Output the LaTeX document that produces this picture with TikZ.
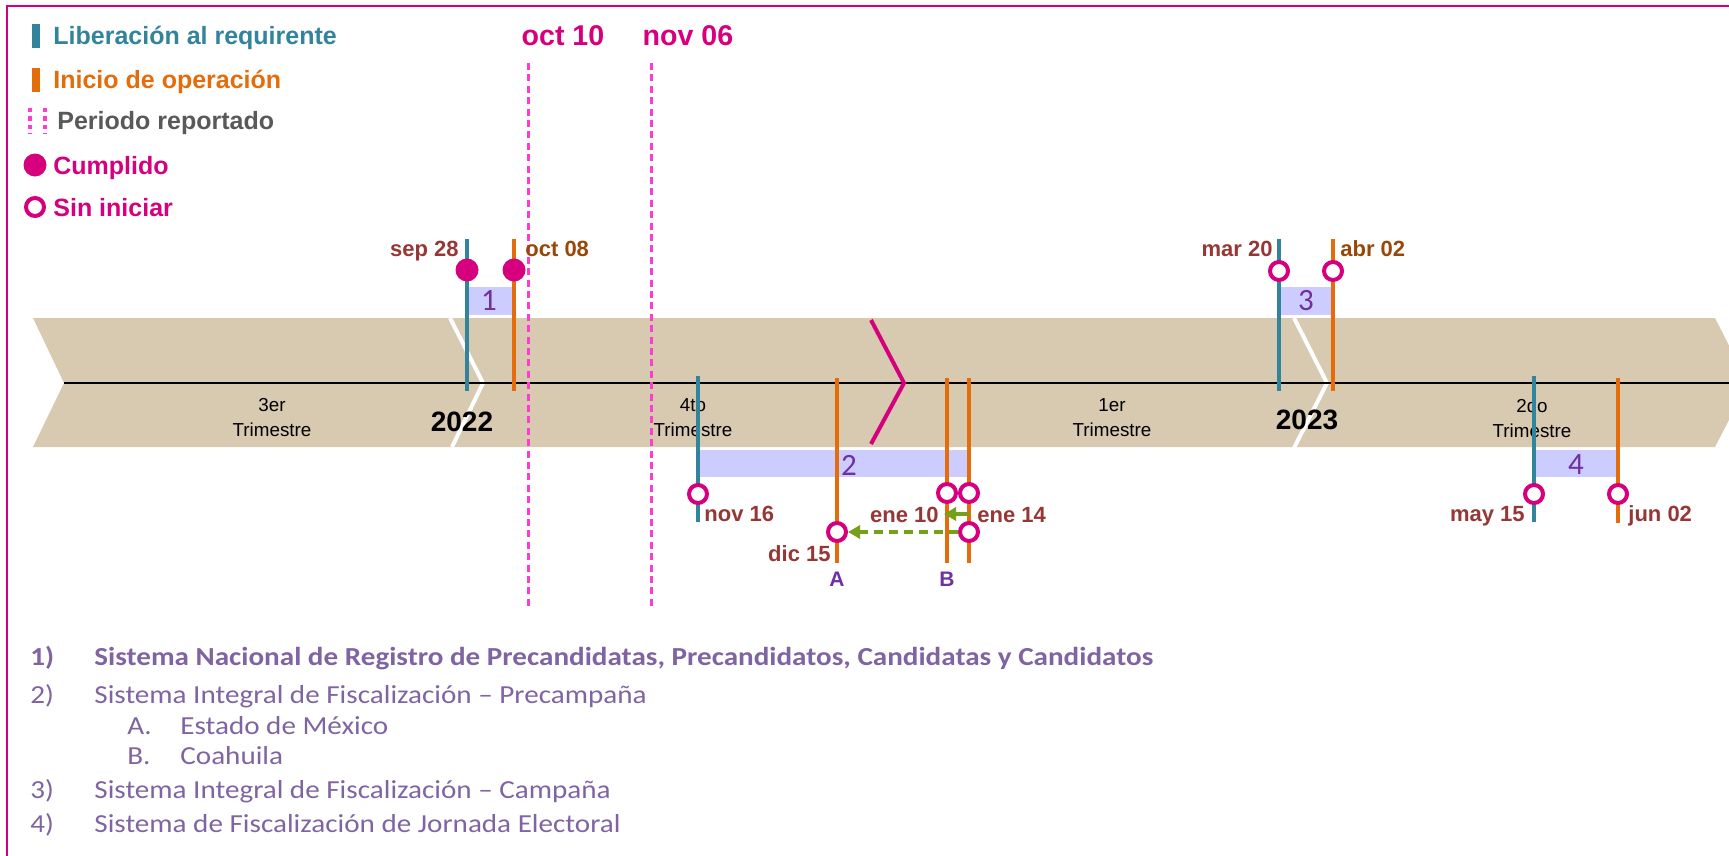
\documentclass[tikz,border=0pt]{standalone}
\usepackage{fontspec}
\setmainfont{Liberation Sans}
\newfontfamily\listfont[FakeStretch=1.12]{Carlito}
\newfontfamily\digitfont{Carlito}
\usetikzlibrary{arrows.meta}

\definecolor{tealc}{RGB}{49,132,155}
\definecolor{orangec}{RGB}{228,108,10}
\definecolor{magc}{RGB}{214,0,127}
\definecolor{pinkc}{RGB}{255,60,210}
\definecolor{tanc}{RGB}{216,201,177}
\definecolor{boxc}{RGB}{204,204,255}
\definecolor{numc}{RGB}{112,48,160}
\definecolor{datec}{RGB}{149,55,53}
\definecolor{brownc}{RGB}{152,72,6}
\definecolor{greenc}{RGB}{118,160,26}
\definecolor{listc}{RGB}{128,100,162}
\definecolor{grayc}{RGB}{89,89,89}

\begin{document}
\begin{tikzpicture}[x=0.5pt,y=-0.5pt,>={Triangle[length=6pt,width=6.5pt]}]

	\tikzset{vline/.style={line width=2.2pt}}
	\tikzset{done/.style={circle,fill=magc,inner sep=0pt,minimum size=11.5pt}}
	\tikzset{todo/.style={circle,draw=magc,fill=white,line width=2pt,inner sep=0pt,minimum size=9pt}}
	\tikzset{datelbl/.style={inner sep=0pt,text=datec,font=\bfseries\fontsize{11}{13}\selectfont}}
	\tikzset{numbox/.style={fill=boxc,inner sep=0pt}}
	\tikzset{numlbl/.style={inner sep=0pt,text=numc,font=\digitfont\fontsize{15.5}{18}\selectfont}}
	\tikzset{quarter/.style={align=center,inner sep=0pt,font=\fontsize{9.4}{12.5}\selectfont}}
	\tikzset{year/.style={inner sep=0pt,font=\bfseries\fontsize{14}{16}\selectfont}}
	\tikzset{legend/.style={anchor=base west,inner sep=0pt,font=\bfseries\fontsize{12.5}{15}\selectfont}}
	\tikzset{period/.style={draw=pinkc,line width=1.5pt,dash pattern=on 3.5pt off 2.2pt}}
	\tikzset{listitem/.style={anchor=base west,inner sep=0pt,text=listc,font=\listfont\fontsize{13}{15}\selectfont}}
	\tikzset{ab/.style={inner sep=0pt,text=numc,font=\bfseries\fontsize{10.5}{12}\selectfont}}

	\useasboundingbox (0,0) rectangle (1729,856);
	\draw[magc,line width=1.2pt] (7,6) rectangle (1760,900);

	% legend
	\draw[tealc,line width=4pt] (36,24) -- (36,48);
	\node[legend,text=tealc] (lg1) at (53,45) {Liberación al requirente};
	\draw[orangec,line width=4pt] (36,68) -- (36,92);
	\node[legend,text=orangec] (lg2) at (53,89) {Inicio de operación};
	\draw[pinkc,line width=2pt,dash pattern=on 2.2pt off 2pt] (30,108) -- (30,134);
	\draw[pinkc,line width=2pt,dash pattern=on 2.2pt off 2pt] (45,108) -- (45,134);
	\node[legend,text=grayc] (lg3) at (57,130) {Periodo reportado};
	\node[done] (lgd) at (35,165) {};
	\node[legend,text=magc] (lg4) at (53,174) {Cumplido};
	\node[todo] (lgu) at (35,207) {};
	\node[legend,text=magc] (lg5) at (53,216) {Sin iniciar};

	% timeline band
	\fill[tanc] (33,318) -- (1715,318) -- (1748,383) -- (1715,447) -- (33,447) -- (64,383) -- cycle;
	\draw[white,line width=2pt] (450,318) -- (483,383) -- (452,447);
	\draw[white,line width=2pt] (1294,318) -- (1327,383) -- (1294,448);
	\draw[line width=1.3pt] (64,383) -- (1729,383);
	\draw[magc,line width=2pt] (871,320) -- (904,383) -- (871,444);

	\foreach \x/\q in {272/3er,693/4to,1112/1er,1532/2do}{
		\node[quarter] (q\q) at (\x,418) {\q\\Trimestre};
	}
	\node[year] (y2022) at (462,422) {2022};
	\node[year] (y2023) at (1307,420) {2023};

	% periodo reportado
	\coordinate (p1a) at (528,63);
	\coordinate (p1b) at (528,606);
	\draw[period] (p1a) -- (p1b);
	\coordinate (p2a) at (651,63);
	\coordinate (p2b) at (651,606);
	\draw[period] (p2a) -- (p2b);
	\node[anchor=base,inner sep=0pt,text=magc,font=\bfseries\fontsize{14.3}{17}\selectfont] (oct) at (563,46) {oct 10};
	\node[anchor=base,inner sep=0pt,text=magc,font=\bfseries\fontsize{14.3}{17}\selectfont] (nov) at (688,46) {nov 06};

	% boxes
	\node[numbox,minimum width=23.5pt,minimum height=14pt] (box1) at (490.5,301) {};
	\node[numbox,minimum width=135.5pt,minimum height=13.5pt] (box2) at (833.5,463.5) {};
	\node[numbox,minimum width=27pt,minimum height=14pt] (box3) at (1306,301) {};
	\node[numbox,minimum width=42pt,minimum height=13.5pt] (box4) at (1576,463.5) {};
	\node[numlbl] (n1) at (489,301) {1};
	\node[numlbl] (n2) at (849,465) {2};
	\node[numlbl] (n3) at (1306,301) {3};
	\node[numlbl] (n4) at (1576,465) {4};

	\foreach \n/\x/\ya/\yb/\c in {s1/467/239/391/tealc, o1/514/239/391/orangec,
			s2/698/376/522/tealc, a2/837/378/563/orangec, b2/947/378/563/orangec, c2/969/378/563/orangec,
			s3/1279/239/391/tealc, o3/1333/239/391/orangec,
			s4/1534/376/522/tealc, o4/1618/378/523/orangec}{
		\coordinate (\n top) at (\x,\ya);
		\coordinate (\n bot) at (\x,\yb);
		\draw[vline,draw=\c] (\n top) -- (\n bot);
	}

	% milestones
	\node[done] (d1) at (467,270) {};
	\node[done] (d2) at (514,270) {};
	\node[todo] (u1) at (698,494) {};
	\node[todo] (uA) at (837,532) {};
	\node[todo] (uB) at (947,493) {};
	\node[todo] (uC) at (969,493) {};
	\node[todo] (uD) at (969,532) {};
	\node[todo] (u3a) at (1279,271) {};
	\node[todo] (u3b) at (1333,271) {};
	\node[todo] (u4a) at (1534,494) {};
	\node[todo] (u4b) at (1618,494) {};

	\draw[->,greenc,line width=2pt,dash pattern=on 4.5pt off 3pt] (uD) -- (uA);
	\coordinate (e14) at (969,514);
	\coordinate (e10) at (944,514);
	\draw[->,greenc,line width=2pt] (e14) -- (e10);

	\node[datelbl,anchor=base east] (sep) at (459,256) {sep 28};
	\node[datelbl,anchor=base west,text=brownc] (oct08) at (525,256) {oct 08};
	\node[datelbl,anchor=base west] (nov16) at (704,521) {nov 16};
	\node[datelbl,anchor=base east] (dic15) at (831,561) {dic 15};
	\node[datelbl,anchor=base east] (ene10) at (939,522) {ene 10};
	\node[datelbl,anchor=base west] (ene14) at (977,522) {ene 14};
	\node[datelbl,anchor=base east] (mar20) at (1273,256) {mar 20};
	\node[datelbl,anchor=base west,text=brownc] (abr02) at (1340,256) {abr 02};
	\node[datelbl,anchor=base east] (may15) at (1525,521) {may 15};
	\node[datelbl,anchor=base west] (jun02) at (1628,521) {jun 02};
	\node[ab] (lA) at (837,579) {A};
	\node[ab] (lB) at (947,579) {B};

	% list
	\node[listitem,font=\listfont\bfseries\fontsize{13}{15}\selectfont] (i1) at (30,665) {1)};
	\node[listitem,font=\listfont\bfseries\fontsize{13}{15}\selectfont] (t1) at (94,665) {Sistema Nacional de Registro de Precandidatas, Precandidatos, Candidatas y Candidatos};
	\foreach \y/\n/\t in {703/2)/Sistema Integral de Fiscalización – Precampaña,
			798/3)/Sistema Integral de Fiscalización – Campaña,
			832/4)/Sistema de Fiscalización de Jornada Electoral}{
		\node[listitem] (i\y) at (30,\y) {\n};
		\node[listitem] (t\y) at (94,\y) {\t};
	}
	\node[listitem] (iA) at (127,734) {A.};
	\node[listitem] (tA) at (180,734) {Estado de México};
	\node[listitem] (iB) at (127,764) {B.};
	\node[listitem] (tB) at (180,764) {Coahuila};

\end{tikzpicture}
\end{document}
